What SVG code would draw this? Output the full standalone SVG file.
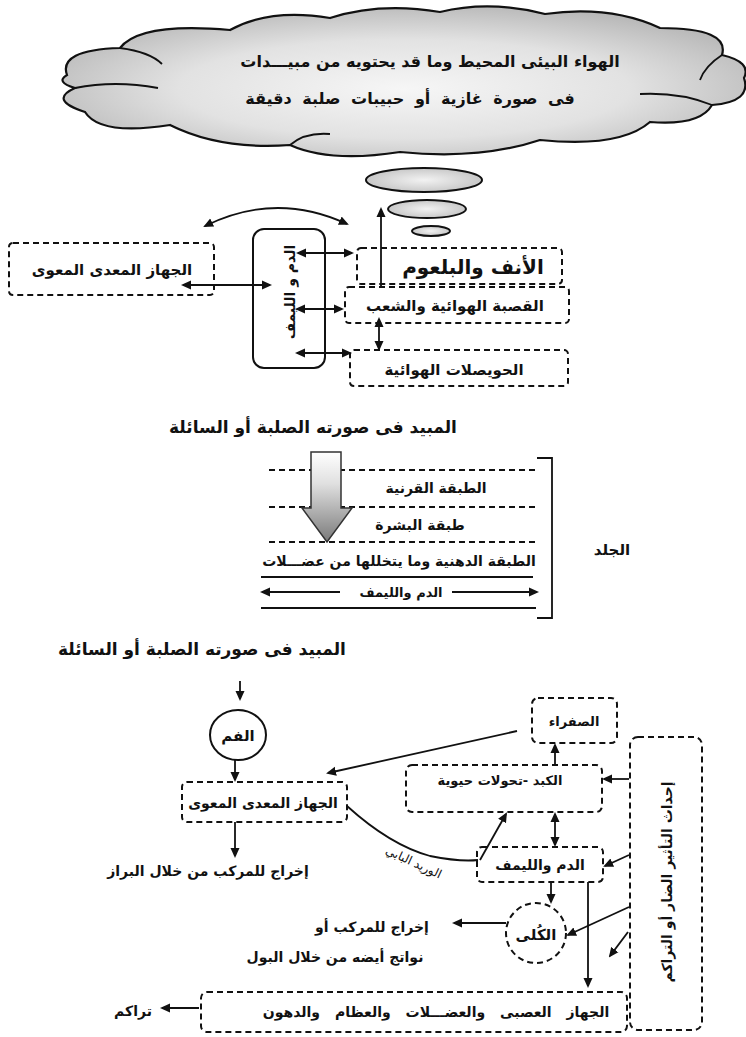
<svg xmlns="http://www.w3.org/2000/svg" width="746" height="1037" viewBox="0 0 746 1037">
<style>
.t{font-family:"DejaVu Sans",sans-serif;font-weight:bold;fill:#111;text-anchor:middle}
.tn{font-family:"DejaVu Sans",sans-serif;font-weight:normal;fill:#111;text-anchor:middle}
.dash{fill:none;stroke:#111;stroke-width:2;stroke-dasharray:6 4}
.ln{fill:none;stroke:#111;stroke-width:1.8}
.ar{fill:none;stroke:#111;stroke-width:1.8;marker-end:url(#ah)}
.ar2{fill:none;stroke:#111;stroke-width:1.8;marker-end:url(#ah);marker-start:url(#ah)}
</style>
<defs>
<marker id="ah" viewBox="0 0 10 10" refX="8" refY="5" markerWidth="10" markerHeight="10" markerUnits="userSpaceOnUse" orient="auto-start-reverse"><path d="M0,0.5 L10,5 L0,9.5 Z" fill="#111"/></marker>
<radialGradient id="cg" cx="0.5" cy="0.55" r="0.6"><stop offset="0" stop-color="#f6f6f6"/><stop offset="0.55" stop-color="#e2e2e2"/><stop offset="1" stop-color="#b4b4b4"/></radialGradient>
<radialGradient id="eg" cx="0.5" cy="0.5" r="0.5"><stop offset="0" stop-color="#f2f2f2"/><stop offset="1" stop-color="#c8c8c8"/></radialGradient>
<linearGradient id="ag" x1="0" y1="0" x2="0" y2="1"><stop offset="0" stop-color="#ffffff"/><stop offset="0.35" stop-color="#e0e0e0"/><stop offset="1" stop-color="#7a7a7a"/></linearGradient>
</defs>

<g id="cloud">
<path d="M67,75 Q58,50 120,48 Q140,22 230,30 Q270,8 330,18 Q380,2 440,12 Q490,0 545,14 Q610,5 660,28 Q730,28 722,55 Q752,62 744,78 Q752,102 712,105 Q700,126 650,122 Q620,148 540,140 Q480,160 400,152 Q330,163 290,145 Q220,150 170,125 Q100,136 85,112 Q48,100 75,88 Q55,82 67,75 Z" fill="url(#cg)" stroke="#111" stroke-width="2.2"/>
<path d="M75,88 Q115,80 158,88" class="ln" stroke-width="1.6"/>
<path d="M120,48 Q150,52 162,64" class="ln" stroke-width="1.6"/>
<path d="M712,105 Q680,92 640,94" class="ln" stroke-width="1.6"/>
<path d="M722,55 Q705,66 700,80" class="ln" stroke-width="1.6"/>
<path d="M290,145 Q305,132 330,134" class="ln" stroke-width="1.6"/>
<text class="t" x="430" y="67" font-size="16">الهواء البيئى المحيط وما قد يحتويه من مبيـــدات</text>
<text class="t" x="410" y="104" font-size="16" word-spacing="5">فى صورة غازية أو حبيبات صلبة دقيقة</text>
</g>

<g id="bubbles">
<ellipse cx="424" cy="180" rx="58" ry="12" fill="url(#eg)" stroke="#111" stroke-width="2"/>
<ellipse cx="427" cy="209" rx="39" ry="9" fill="url(#eg)" stroke="#111" stroke-width="2"/>
<ellipse cx="431" cy="231" rx="19" ry="5" fill="url(#eg)" stroke="#111" stroke-width="2"/>
</g>

<g id="resp-gi">
<rect class="dash" x="9" y="243" width="205" height="52" rx="4"/>
<text class="t" x="112" y="275" font-size="15">الجهاز المعدى المعوى</text>
</g>
<g id="resp-blood">
<rect x="253" y="229" width="72" height="139" rx="11" fill="none" stroke="#111" stroke-width="2"/>
<text class="t" font-size="14" transform="translate(295,292) rotate(-90)">الدم و الليمف</text>
</g>
<g id="resp-nose">
<rect class="dash" x="357" y="248" width="205" height="36" rx="4"/>
<text class="t" x="473" y="274" font-size="20">الأنف والبلعوم</text>
</g>
<g id="resp-trachea">
<rect class="dash" x="345" y="287" width="224" height="36" rx="4"/>
<text class="t" x="455" y="311" font-size="15">القصبة الهوائية والشعب</text>
</g>
<g id="resp-alveoli">
<rect class="dash" x="350" y="350" width="218" height="36" rx="4"/>
<text class="t" x="454" y="375" font-size="15">الحويصلات الهوائية</text>
</g>

<g id="resp-connectors">
<path class="ar2" d="M205,226 Q276,191 347,224"/>
<line class="ar" x1="381" y1="286" x2="381" y2="209"/>
<line class="ar2" x1="298" y1="253" x2="352" y2="253"/>
<line class="ar2" x1="297" y1="309" x2="342" y2="309"/>
<line class="ar2" x1="297" y1="353" x2="350" y2="353"/>
<line class="ar2" x1="183" y1="285" x2="270" y2="285"/>
<line class="ar2" x1="379" y1="319" x2="379" y2="349"/>
</g>

<g id="skin">
<text class="t" x="313" y="433" font-size="17">المبيد فى صورته الصلبة أو السائلة</text>
<path d="M537,458 H552 V618 H537" class="ln" stroke-width="2"/>
<line class="dash" x1="269" y1="470" x2="537" y2="470" stroke-width="1.6"/>
<line class="dash" x1="269" y1="507" x2="537" y2="507" stroke-width="1.6"/>
<line class="dash" x1="269" y1="542" x2="537" y2="542" stroke-width="1.6"/>
<text class="t" x="436" y="493" font-size="14">الطبقة القرنية</text>
<text class="t" x="420" y="530" font-size="14">طبقة البشرة</text>
<text class="t" x="399" y="566" font-size="14">الطبقة الدهنية وما يتخللها من عضـــلات</text>
<line class="ln" x1="261" y1="577" x2="533" y2="577"/>
<line class="ln" x1="261" y1="608" x2="536" y2="608"/>
<line class="ar" x1="340" y1="592" x2="262" y2="592"/>
<line class="ar" x1="452" y1="592" x2="537" y2="592"/>
<text class="t" x="401" y="597" font-size="13">الدم والليمف</text>
<path d="M311,452 H341 V508 H352 L327,542 L302,508 H311 Z" fill="url(#ag)" stroke="#333" stroke-width="1.5"/>
<text class="t" x="612" y="555" font-size="15">الجلد</text>
</g>

<g id="oral-title">
<text class="t" x="202" y="655" font-size="17">المبيد فى صورته الصلبة أو السائلة</text>
</g>
<g id="mouth">
<ellipse cx="238" cy="735" rx="28" ry="25" fill="none" stroke="#111" stroke-width="2"/>
<text class="t" x="238" y="741" font-size="15">الفم</text>
</g>
<g id="gi">
<rect class="dash" x="182" y="782" width="165" height="40" rx="5"/>
<text class="t" x="263" y="808" font-size="14">الجهاز المعدى المعوى</text>
</g>
<g id="feces">
<text class="t" x="208" y="876" font-size="14">إخراج للمركب من خلال البراز</text>
</g>
<g id="bile">
<rect class="dash" x="532" y="698" width="85" height="45" rx="6"/>
<text class="t" x="574" y="726" font-size="13">الصفراء</text>
</g>
<g id="liver">
<rect class="dash" x="406" y="765" width="196" height="47" rx="6"/>
<text class="t" x="500" y="785" font-size="13">الكبد -تحولات حيوية</text>
</g>
<g id="blood">
<rect class="dash" x="477" y="847" width="126" height="35" rx="5"/>
<text class="t" x="540" y="870" font-size="14">الدم والليمف</text>
</g>
<g id="kidney">
<circle cx="536" cy="933" r="30" class="dash"/>
<text class="t" x="536" y="940" font-size="15">الكُلى</text>
</g>
<g id="urine">
<text class="t" x="372" y="932" font-size="14">إخراج للمركب أو</text>
<text class="t" x="335" y="962" font-size="14">نواتج أيضه من خلال البول</text>
</g>
<g id="effects">
<rect class="dash" x="630" y="737" width="72" height="293" rx="8"/>
<text class="t" font-size="14" transform="translate(672,882) rotate(-90)">إحداث التأثير الضار أو التراكم</text>
</g>
<g id="tissues">
<rect class="dash" x="201" y="992" width="426" height="40" rx="6"/>
<text class="t" x="436" y="1017" font-size="14" word-spacing="10">الجهاز العصبى والعضـــلات والعظام والدهون</text>
</g>
<g id="accum">
<text class="t" x="133" y="1016" font-size="14">تراكم</text>
</g>

<g id="connectors">
<line class="ar" x1="240" y1="681" x2="240" y2="699"/>
<line class="ar" x1="235" y1="760" x2="235" y2="780"/>
<line class="ar" x1="235" y1="822" x2="235" y2="856"/>
<line class="ar" x1="517" y1="731" x2="328" y2="773"/>
<line class="ar" x1="555" y1="765" x2="555" y2="745"/>
<line class="ar" x1="629" y1="779" x2="604" y2="779"/>
<line class="ar2" x1="555" y1="814" x2="555" y2="845"/>
<path class="ln" d="M347,806 Q390,845 430,856 Q460,862 478,860"/>
<line class="ar" x1="480" y1="860" x2="506" y2="814"/>
<text class="tn" font-size="12" transform="translate(412,866) rotate(25)">الوريد البابي</text>
<line class="ar" x1="629" y1="855" x2="605" y2="866"/>
<line class="ar" x1="551" y1="882" x2="551" y2="902"/>
<line class="ar" x1="588" y1="882" x2="588" y2="986"/>
<line class="ar" x1="629" y1="907" x2="568" y2="935"/>
<line class="ar" x1="628" y1="932" x2="610" y2="956"/>
<line class="ar" x1="506" y1="923" x2="454" y2="923"/>
<line class="ar" x1="199" y1="1008" x2="162" y2="1008"/>
</g>
</svg>
